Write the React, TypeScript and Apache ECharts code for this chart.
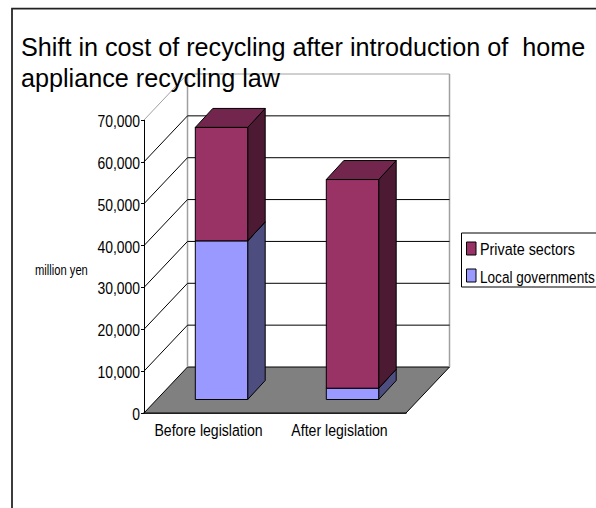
import React, { useEffect, useRef } from "react";
import * as echarts from "echarts";

const titleText = "Shift in cost of recycling after introduction of  home\nappliance recycling law";
const categories = ["Before legislation", "After legislation"];
const yTicks = [0, 10000, 20000, 30000, 40000, 50000, 60000, 70000];
const yTickLabels = ["0", "10,000", "20,000", "30,000", "40,000", "50,000", "60,000", "70,000"];
const yAxisName = "million yen";
const localGovernments = [37900, 2700];
const privateSectors = [27100, 49850];

const PRIVATE = { front: "#993366", side: "#4D1A33", top: "#73264D" };
const LOCAL = { front: "#9999FF", side: "#4D4D80", top: "#7373BF" };

// Oblique projection used for the fake 3D box and the columns inside it.
const WALL_DX = 43.5;
const WALL_DY = -46;
const BAR_DX = 12;
const BAR_DY = -13.5;
const COL_DX = 17.5;
const COL_DY = -19;
const BAR_WIDTH_RATIO = 0.4;

// Labels use a horizontally squeezed sans to get a tall, narrow look.
const LABEL_FONT = "'Liberation Sans', Arial, sans-serif";
const LABEL_SIZE = 17;

function squeezedText(text: string, x: number, y: number, scaleX: number, fontSize: number, align: string) {
  return {
    type: "text",
    x,
    y,
    scaleX,
    silent: true,
    style: {
      text,
      fill: "#000000",
      font: `${fontSize}px ${LABEL_FONT}`,
      textAlign: align,
      textVerticalAlign: "middle",
    },
  };
}

function renderWall(params: any, api: any) {
  const tick = api.value(0);
  const rect = params.coordSys;
  const left = rect.x;
  const right = rect.x + rect.width;
  const y = api.coord([0, tick])[1];
  const isTop = tick === yTicks[yTicks.length - 1];
  const lineColor = isTop ? "#a0a0a0" : "#000000";
  const children: any[] = [];
  if (tick === 0) {
    children.push({
      type: "polygon",
      shape: {
        points: [
          [left, y],
          [right, y],
          [right + WALL_DX, y + WALL_DY],
          [left + WALL_DX, y + WALL_DY],
        ],
      },
      style: { fill: "#808080", stroke: "#000000", lineWidth: 1 },
    });
    // Uprights of the back wall.
    const topY = api.coord([0, yTicks[yTicks.length - 1]])[1];
    [left, right].forEach((x) =>
      children.push({
        type: "line",
        shape: { x1: x + WALL_DX, y1: y + WALL_DY, x2: x + WALL_DX, y2: topY + WALL_DY },
        style: { stroke: "#a0a0a0", lineWidth: 1.5 },
      })
    );
  } else {
    children.push({
      type: "line",
      shape: { x1: left, y1: y, x2: left + WALL_DX, y2: y + WALL_DY },
      style: { stroke: lineColor, lineWidth: 1 },
    });
    children.push({
      type: "line",
      shape: { x1: left + WALL_DX, y1: y + WALL_DY, x2: right + WALL_DX, y2: y + WALL_DY },
      style: { stroke: lineColor, lineWidth: 1 },
    });
  }
  children.push(squeezedText(yTickLabels[params.dataIndex], left - 4, y + 1, 0.82, LABEL_SIZE, "right"));
  return { type: "group", children };
}

function renderCategoryLabel(params: any, api: any) {
  const p = api.coord([api.value(0), 0]);
  return squeezedText(categories[params.dataIndex], p[0] - 1, p[1] + 17, 0.83, LABEL_SIZE, "center");
}

function makeColumn(base: number[], colors: typeof PRIVATE) {
  return (params: any, api: any) => {
    const idx = api.value(0);
    const height = api.value(1);
    const start = base[idx];
    const p0 = api.coord([idx, start]);
    const p1 = api.coord([idx, start + height]);
    const w = api.size([1, 0])[0] * BAR_WIDTH_RATIO;
    const x0 = p0[0] + BAR_DX - w / 2;
    const x1 = x0 + w;
    const yb = p0[1] + BAR_DY;
    const yt = p1[1] + BAR_DY;
    const outline = { stroke: "#000000", lineWidth: 1, lineJoin: "round" };
    return {
      type: "group",
      children: [
        {
          type: "polygon",
          shape: {
            points: [
              [x1, yb],
              [x1 + COL_DX, yb + COL_DY],
              [x1 + COL_DX, yt + COL_DY],
              [x1, yt],
            ],
          },
          style: { fill: colors.side, ...outline },
        },
        {
          type: "polygon",
          shape: {
            points: [
              [x0, yt],
              [x1, yt],
              [x1 + COL_DX, yt + COL_DY],
              [x0 + COL_DX, yt + COL_DY],
            ],
          },
          style: { fill: colors.top, ...outline },
        },
        {
          type: "rect",
          shape: { x: x0, y: yt, width: w, height: yb - yt },
          style: { fill: colors.front, ...outline },
        },
      ],
    };
  };
}

function legendEntry(name: string, fill: string, swatchY: number, scaleX: number) {
  return [
    {
      type: "rect",
      silent: true,
      shape: { x: 466.5, y: swatchY, width: 9.5, height: 13 },
      style: { fill, stroke: "#000000", lineWidth: 1 },
    },
    squeezedText(name, 480, swatchY + 7.5, scaleX, LABEL_SIZE, "left"),
  ];
}

export default function App() {
  const ref = useRef<HTMLDivElement>(null);

  useEffect(() => {
    document.body.style.margin = "0";
    const chart = echarts.init(ref.current!, undefined, { renderer: "svg" });
    chart.setOption({
      animation: false,
      backgroundColor: "#ffffff",
      title: {
        text: titleText,
        left: 21,
        top: 31,
        padding: 0,
        z: 20,
        textStyle: {
          fontFamily: "'Liberation Sans', Arial, sans-serif",
          fontSize: 25.2,
          fontWeight: "normal",
          color: "#000000",
          lineHeight: 31,
        },
      },
      grid: { left: 144, top: 120, width: 262, height: 293 },
      xAxis: {
        type: "category",
        data: categories,
        axisLine: { lineStyle: { color: "#000000", width: 1.5 } },
        axisTick: { inside: true, length: 4, lineStyle: { color: "#000000" } },
        axisLabel: { show: false },
      },
      yAxis: {
        type: "value",
        min: 0,
        max: 70000,
        interval: 10000,
        axisLine: { show: true, lineStyle: { color: "#000000", width: 1 } },
        axisTick: { show: true, length: 3, lineStyle: { color: "#000000" } },
        axisLabel: { show: false },
        splitLine: { show: false },
      },
      graphic: [
        {
          type: "polyline",
          silent: true,
          shape: { points: [[12, 508], [12, 8.5], [596, 8.5]] },
          style: { stroke: "#222222", lineWidth: 1.75, fill: "none" },
        },
        squeezedText(yAxisName, 35, 271, 0.8, 14, "left"),
        {
          type: "rect",
          silent: true,
          shape: { x: 461.5, y: 233, width: 200, height: 54 },
          style: { fill: "#ffffff", stroke: "#000000", lineWidth: 1 },
        },
        ...legendEntry("Private sectors", PRIVATE.front, 242, 0.845),
        ...legendEntry("Local governments", LOCAL.front, 269, 0.8),
      ],
      series: [
        {
          type: "custom",
          name: "walls",
          coordinateSystem: "cartesian2d",
          renderItem: renderWall,
          encode: { y: 0 },
          data: yTicks.map((t) => [t]),
          silent: true,
          z: 1,
        },
        {
          type: "custom",
          name: "categories",
          coordinateSystem: "cartesian2d",
          renderItem: renderCategoryLabel,
          encode: { x: 0 },
          data: categories.map((_, i) => [i]),
          silent: true,
          z: 2,
        },
        {
          type: "custom",
          name: "Local governments",
          coordinateSystem: "cartesian2d",
          renderItem: makeColumn(categories.map(() => 0), LOCAL),
          encode: { x: 0, y: 1 },
          data: localGovernments.map((v, i) => [i, v]),
          z: 3,
        },
        {
          type: "custom",
          name: "Private sectors",
          coordinateSystem: "cartesian2d",
          renderItem: makeColumn(localGovernments, PRIVATE),
          encode: { x: 0, y: 1 },
          data: privateSectors.map((v, i) => [i, v]),
          z: 4,
        },
      ],
    });
    return () => chart.dispose();
  }, []);

  return <div ref={ref} style={{ width: 596, height: 508 }} />;
}
